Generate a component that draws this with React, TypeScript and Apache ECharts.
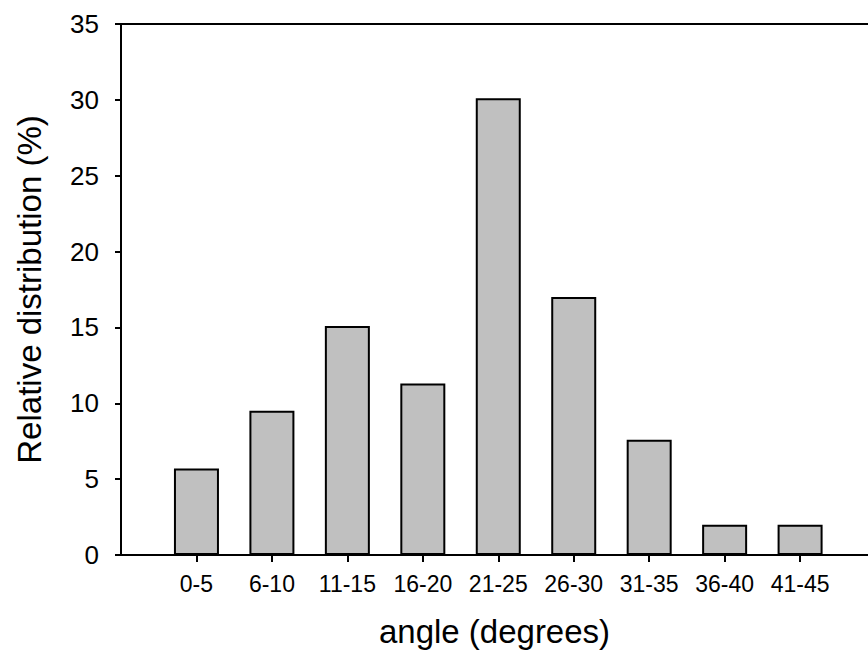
import React, { useEffect, useRef } from "react";
import * as echarts from "echarts";

const categories = ["0-5", "6-10", "11-15", "16-20", "21-25", "26-30", "31-35", "36-40", "41-45"];
const values = [5.7, 9.5, 15.1, 11.3, 30.1, 17.0, 7.6, 2.0, 2.0];
const positions = [1, 2, 3, 4, 5, 6, 7, 8, 9];

export default function App() {
  const ref = useRef<HTMLDivElement>(null);
  useEffect(() => {
    if (!ref.current) return;
    const chart = echarts.init(ref.current, undefined, { renderer: "svg" });
    const font = "Liberation Sans, Arial, sans-serif";
    chart.setOption({
      animation: false,
      backgroundColor: "#fff",
      grid: { left: 121, top: 24, right: 0, bottom: 105 },
      xAxis: [
        {
          type: "value",
          position: "bottom",
          min: 0,
          max: 9.9,
          interval: 1,
          name: "angle (degrees)",
          nameLocation: "middle",
          nameGap: 60,
          nameTextStyle: { fontFamily: font, fontSize: 33, color: "#000" },
          axisLine: { show: true, lineStyle: { color: "#000", width: 2 } },
          axisTick: { show: true, customValues: positions, length: 7, lineStyle: { color: "#000", width: 2 } },
          axisLabel: {
            customValues: positions,
            formatter: (v: number) => categories[Math.round(v) - 1] ?? "",
            fontFamily: font,
            fontSize: 23,
            color: "#000",
            margin: 17,
          },
          splitLine: { show: false },
        },
        {
          type: "value",
          position: "top",
          min: 0,
          max: 9.9,
          axisLine: { show: true, lineStyle: { color: "#000", width: 2 } },
          axisTick: { show: false },
          axisLabel: { show: false },
          splitLine: { show: false },
        },
      ],
      yAxis: {
        type: "value",
        min: 0,
        max: 35,
        interval: 5,
        name: "Relative distribution (%)",
        nameLocation: "middle",
        nameGap: 75,
        nameTextStyle: { fontFamily: font, fontSize: 33, color: "#000" },
        axisLine: { show: true, lineStyle: { color: "#000", width: 2 } },
        axisTick: { show: true, length: 6, lineStyle: { color: "#000", width: 2 } },
        axisLabel: { fontFamily: font, fontSize: 26, color: "#000", margin: 22 },
        splitLine: { show: false },
      },
      series: [
        {
          type: "bar",
          xAxisIndex: 0,
          data: positions.map((p, i) => [p, values[i]]),
          barWidth: 45,
          itemStyle: { color: "#c0c0c0", borderColor: "#000", borderWidth: 2 },
        },
      ],
    });
    return () => chart.dispose();
  }, []);
  return <div ref={ref} style={{ width: 868, height: 660, position: "absolute", left: 0, top: 0 }} />;
}
